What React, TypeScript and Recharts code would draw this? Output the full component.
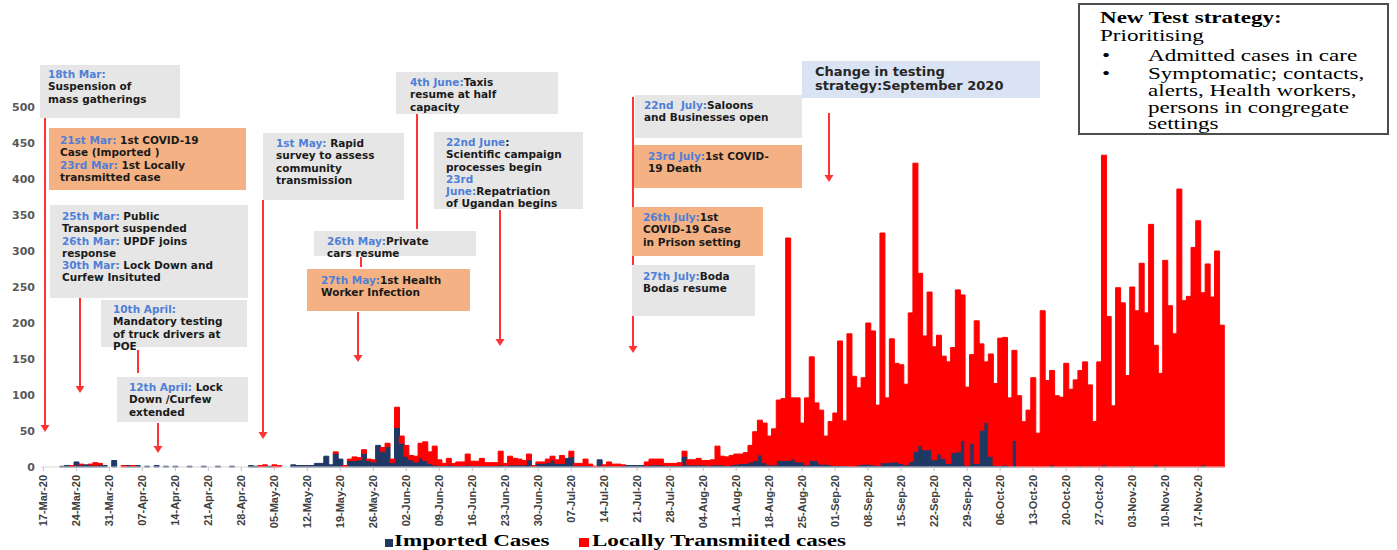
import React from 'react';
import { BarChart, Bar, XAxis, YAxis } from 'recharts';

// ---------------------------------------------------------------------------
// Daily cases, 17-Mar-20 .. 22-Nov-20, one array per month
// ---------------------------------------------------------------------------
const IMPORTED_MAR = [0, 0, 0, 0, 1, 2, 1, 7, 3, 3, 3, 2, 3, 2, 0];
const LOCAL_MAR = [0, 0, 0, 0, 0, 0, 1, 0, 1, 0, 1, 4, 2, 0, 0];
const IMPORTED_APR = [9, 0, 0, 2, 1, 2, 0, 1, 0, 2, 0, 1, 0, 1, 0, 0, 1, 0, 0, 1, 0, 0, 1, 0, 0, 1, 0, 0, 0, 2];
const LOCAL_APR = [0, 0, 2, 0, 1, 0, 0, 0, 0, 0, 0, 0, 0, 0, 0, 0, 0, 0, 0, 0, 0, 0, 0, 0, 0, 0, 0, 0, 0, 0];
const IMPORTED_MAY = [1, 0, 1, 1, 0, 0, 0, 0, 3, 2, 2, 2, 2, 5, 5, 15, 3, 19, 11, 0, 9, 9, 10, 19, 9, 7, 30, 22, 28, 6, 55];
const LOCAL_MAY = [0, 2, 2, 0, 3, 2, 0, 0, 0, 0, 0, 0, 0, 0, 0, 0, 0, 2, 0, 2, 2, 5, 3, 5, 2, 3, 0, 5, 5, 5, 28];
const IMPORTED_JUN = [33, 15, 10, 7, 13, 9, 5, 3, 2, 2, 3, 2, 2, 2, 3, 2, 2, 2, 2, 2, 2, 3, 2, 3, 3, 3, 3, 10, 1, 5];
const LOCAL_JUN = [10, 15, 6, 8, 20, 26, 16, 26, 8, 3, 9, 3, 5, 5, 15, 6, 6, 10, 4, 4, 4, 19, 3, 12, 9, 8, 6, 8, 1, 2];
const IMPORTED_JUL = [5, 6, 10, 5, 5, 12, 14, 2, 2, 2, 2, 0, 10, 1, 2, 1, 1, 2, 2, 2, 2, 2, 2, 3, 3, 3, 2, 2, 2, 2, 15];
const LOCAL_JUL = [2, 5, 5, 5, 11, 0, 8, 3, 3, 9, 2, 1, 0, 2, 5, 3, 3, 1, 0, 0, 0, 0, 5, 8, 8, 8, 3, 3, 3, 4, 7];
const IMPORTED_AUG = [3, 3, 3, 3, 2, 3, 3, 3, 2, 3, 4, 5, 5, 7, 9, 17, 6, 3, 3, 9, 9, 9, 11, 7, 7, 3, 9, 9, 4, 4, 3];
const LOCAL_AUG = [7, 7, 9, 6, 7, 7, 26, 12, 12, 13, 14, 13, 15, 23, 40, 48, 55, 40, 50, 84, 86, 309, 85, 89, 54, 93, 144, 80, 75, 39, 60];
const IMPORTED_SEP = [2, 2, 2, 1, 1, 3, 4, 4, 3, 2, 6, 6, 7, 7, 5, 3, 8, 22, 30, 24, 24, 10, 18, 12, 5, 20, 21, 37, 2, 33];
const LOCAL_SEP = [73, 173, 62, 184, 125, 107, 120, 196, 186, 84, 319, 90, 171, 137, 137, 112, 206, 400, 239, 158, 219, 157, 165, 142, 141, 146, 225, 202, 109, 123];
const IMPORTED_OCT = [5, 51, 62, 15, 2, 2, 3, 1, 37, 0, 1, 0, 0, 0, 0, 0, 3, 0, 1, 0, 0, 0, 2, 0, 1, 0, 0, 3, 0, 0, 0];
const LOCAL_OCT = [198, 120, 84, 142, 114, 177, 177, 95, 125, 99, 62, 79, 124, 47, 217, 120, 131, 99, 96, 144, 108, 121, 132, 146, 113, 63, 146, 430, 209, 85, 249];
const IMPORTED_NOV = [0, 0, 2, 0, 0, 0, 0, 3, 0, 0, 0, 0, 0, 0, 1, 0, 0, 3, 0, 0, 0, 0];
const LOCAL_NOV = [228, 127, 248, 217, 283, 214, 337, 166, 130, 287, 224, 185, 386, 231, 236, 305, 342, 239, 282, 236, 300, 197];

const TICK_LABELS = [
  '17-Mar-20', '24-Mar-20', '31-Mar-20', '07-Apr-20', '14-Apr-20', '21-Apr-20', '28-Apr-20',
  '05-May-20', '12-May-20', '19-May-20', '26-May-20', '02-Jun-20', '09-Jun-20', '16-Jun-20',
  '23-Jun-20', '30-Jun-20', '07-Jul-20', '14-Jul-20', '21-Jul-20', '28-Jul-20', '04-Aug-20',
  '11-Aug-20', '18-Aug-20', '25-Aug-20', '01-Sep-20', '08-Sep-20', '15-Sep-20', '22-Sep-20',
  '29-Sep-20', '06-Oct-20', '13-Oct-20', '20-Oct-20', '27-Oct-20', '03-Nov-20', '10-Nov-20',
  '17-Nov-20',
];
const Y_TICKS = [0, 50, 100, 150, 200, 250, 300, 350, 400, 450, 500];

const MONTHS = ['Jan', 'Feb', 'Mar', 'Apr', 'May', 'Jun', 'Jul', 'Aug', 'Sep', 'Oct', 'Nov', 'Dec'];

const IMPORTED = [
  ...IMPORTED_MAR, ...IMPORTED_APR, ...IMPORTED_MAY, ...IMPORTED_JUN, ...IMPORTED_JUL,
  ...IMPORTED_AUG, ...IMPORTED_SEP, ...IMPORTED_OCT, ...IMPORTED_NOV,
];
const LOCAL = [
  ...LOCAL_MAR, ...LOCAL_APR, ...LOCAL_MAY, ...LOCAL_JUN, ...LOCAL_JUL,
  ...LOCAL_AUG, ...LOCAL_SEP, ...LOCAL_OCT, ...LOCAL_NOV,
];

function dayLabel(i: number) {
  const d = new Date(Date.UTC(2020, 2, 17 + i));
  return `${String(d.getUTCDate()).padStart(2, '0')}-${MONTHS[d.getUTCMonth()]}-20`;
}

const data = IMPORTED.map((v, i) => ({ date: dayLabel(i), imported: v, local: LOCAL[i] }));

// ---------------------------------------------------------------------------
// Annotation boxes & arrows (page pixels)
// ---------------------------------------------------------------------------
const GREY = '#e6e6e6';
const ORANGE = '#f4b183';
const BLUE_TXT = '#4f7fd6';
const NAVY = '#1f3864';
const RED = '#ff0000';

interface Note {
  x: number; y: number; w: number; h: number; bg: string; tx: number; ty: number;
  lines: [string, string][];
}

const NOTES: Note[] = [
  { x: 40, y: 65, w: 140, h: 53, bg: GREY, tx: 8, ty: 3,
    lines: [['18th Mar:', ''], ['', 'Suspension of'], ['', 'mass gatherings']] },
  { x: 49, y: 128, w: 197, h: 62, bg: ORANGE, tx: 11, ty: 6,
    lines: [['21st Mar: ', '1st COVID-19'], ['', 'Case (Imported )'], ['23rd Mar: ', '1st Locally'], ['', 'transmitted case']] },
  { x: 50, y: 205, w: 198, h: 93, bg: GREY, tx: 12, ty: 5,
    lines: [['25th Mar: ', 'Public'], ['', 'Transport suspended'], ['26th Mar: ', 'UPDF joins'], ['', 'response'], ['30th Mar: ', 'Lock Down and'], ['', 'Curfew Insituted']] },
  { x: 101, y: 300, w: 146, h: 47, bg: GREY, tx: 12, ty: 3,
    lines: [['10th April:', ''], ['', 'Mandatory testing'], ['', 'of truck drivers at'], ['', 'POE']] },
  { x: 117, y: 377, w: 131, h: 45, bg: GREY, tx: 12, ty: 4,
    lines: [['12th April: ', 'Lock'], ['', 'Down /Curfew'], ['', 'extended']] },
  { x: 263, y: 133, w: 141, h: 67, bg: GREY, tx: 13, ty: 4,
    lines: [['1st May: ', 'Rapid'], ['', 'survey to assess'], ['', 'community'], ['', 'transmission']] },
  { x: 396, y: 72, w: 162, h: 42, bg: GREY, tx: 14, ty: 4,
    lines: [['4th June:', 'Taxis'], ['', 'resume at half'], ['', 'capacity']] },
  { x: 314, y: 231, w: 162, h: 25, bg: GREY, tx: 13, ty: 4,
    lines: [['26th May:', 'Private'], ['', 'cars resume']] },
  { x: 307, y: 269, w: 163, h: 42, bg: ORANGE, tx: 14, ty: 5,
    lines: [['27th May:', '1st Health'], ['', 'Worker Infection']] },
  { x: 434, y: 132, w: 149, h: 77, bg: GREY, tx: 12, ty: 4,
    lines: [['22nd June', ':'], ['', 'Scientific campaign'], ['', 'processes begin'], ['23rd', ''], ['June:', 'Repatriation'], ['', 'of Ugandan begins']] },
  { x: 635, y: 95, w: 167, h: 43, bg: GREY, tx: 9, ty: 4,
    lines: [['22nd  July:', 'Saloons'], ['', 'and Businesses open']] },
  { x: 634, y: 145, w: 168, h: 43, bg: ORANGE, tx: 14, ty: 5,
    lines: [['23rd July:', '1st COVID-'], ['', '19 Death']] },
  { x: 632, y: 207, w: 131, h: 49, bg: ORANGE, tx: 11, ty: 4,
    lines: [['26th July:', '1st'], ['', 'COVID-19 Case'], ['', 'in Prison setting']] },
  { x: 632, y: 265, w: 123, h: 51, bg: GREY, tx: 11, ty: 5,
    lines: [['27th July:', 'Boda'], ['', 'Bodas resume']] },
];

// [x, yStart, yEnd, hasHead]
const ARROWS: [number, number, number, boolean][] = [
  [45, 118, 432, true],
  [80, 298, 393, true],
  [138, 350, 373, false],
  [158, 423, 453, true],
  [263, 200, 439, true],
  [417, 113, 229, false],
  [361, 257, 267, false],
  [358, 312, 362, true],
  [500, 210, 346, true],
  [633, 97, 353, true],
  [829, 113, 182, true],
];

const NOTE_FONT = '"DejaVu Sans", Arial, sans-serif';
const SERIF = '"Liberation Serif", "Times New Roman", serif';

function DateTick({ x, y, payload }: any) {
  return (
    <text
      x={0}
      y={0}
      transform={`translate(${x},${y + 2}) rotate(-90)`}
      textAnchor="end"
      dominantBaseline="central"
      fontSize={11}
      fontWeight="bold"
      fontFamily="'Liberation Sans', Arial, sans-serif"
      fill="#404040"
    >
      {payload.value}
    </text>
  );
}

function NoteBox({ n }: { n: Note }) {
  return (
    <div
      style={{
        position: 'absolute', left: n.x, top: n.y, width: n.w, height: n.h, background: n.bg,
        boxSizing: 'border-box', paddingLeft: n.tx, paddingTop: n.ty,
        fontFamily: NOTE_FONT, fontSize: 10.5, fontWeight: 'bold', lineHeight: '12.3px',
        color: '#1a1a1a', whiteSpace: 'pre',
      }}
    >
      {n.lines.map(([blue, black], i) => (
        <div key={i}>
          <span style={{ color: BLUE_TXT }}>{blue}</span>
          {black}
        </div>
      ))}
    </div>
  );
}

function SerifLine({ left, top, bold, children }: { left: number; top: number; bold?: boolean; children: React.ReactNode }) {
  return (
    <div
      style={{
        position: 'absolute', left, top, fontFamily: SERIF, fontSize: 16, lineHeight: '16px',
        fontWeight: bold ? 'bold' : 'normal', whiteSpace: 'nowrap', color: '#000',
        transform: 'scaleX(1.44)', transformOrigin: 'left top',
      }}
    >
      {children}
    </div>
  );
}

export default function App() {
  return (
    <div style={{ position: 'absolute', left: 0, top: 0, width: 1397, height: 550, overflow: 'hidden', background: '#fff' }}>
      <BarChart
        width={1397}
        height={550}
        data={data}
        margin={{ top: 107, right: 173, bottom: 0, left: 0 }}
        barCategoryGap={0}
        barGap={0}
      >
        <XAxis
          dataKey="date"
          ticks={TICK_LABELS}
          interval={0}
          height={83}
          tick={<DateTick />}
          tickSize={4}
          axisLine={{ stroke: '#d9d9d9' }}
          tickLine={{ stroke: '#bfbfbf' }}
        />
        <YAxis
          domain={[0, 500]}
          ticks={Y_TICKS}
          width={41}
          axisLine={false}
          tickLine={false}
          tickSize={4}
          tickMargin={2}
          tick={{ fill: '#595959', fontSize: 11, fontWeight: 'bold', fontFamily: NOTE_FONT }}
        />
        {/* a thin same-colour stroke closes the sub-pixel seams between neighbouring bars */}
        <Bar dataKey="imported" stackId="a" fill={NAVY} stroke={NAVY} strokeWidth={1} isAnimationActive={false} />
        <Bar dataKey="local" stackId="a" fill={RED} stroke={RED} strokeWidth={1} isAnimationActive={false} />
      </BarChart>

      <svg width={1397} height={550} style={{ position: 'absolute', left: 0, top: 0, pointerEvents: 'none' }}>
        {ARROWS.map(([x, y1, y2, head], i) => (
          <g key={i} stroke="#ff3333" fill="#ff3333">
            <line x1={x} y1={y1} x2={x} y2={head ? y2 - 5 : y2} strokeWidth={2} />
            {head && <polygon points={`${x - 4.5},${y2 - 7} ${x + 4.5},${y2 - 7} ${x},${y2}`} stroke="none" />}
          </g>
        ))}
      </svg>

      {NOTES.map((n, i) => (
        <NoteBox key={i} n={n} />
      ))}

      <div
        style={{
          position: 'absolute', left: 802, top: 61, width: 238, height: 37, background: '#dae3f3',
          boxSizing: 'border-box', paddingLeft: 13, paddingTop: 4, fontFamily: NOTE_FONT,
          fontSize: 13, fontWeight: 'bold', lineHeight: '14px', color: '#262626', whiteSpace: 'pre',
        }}
      >
        <div>Change in testing</div>
        <div>strategy:September 2020</div>
      </div>

      <div
        style={{
          position: 'absolute', left: 1078, top: 3, width: 311, height: 132,
          border: '2px solid #4d4d4d', boxSizing: 'border-box', background: '#fff',
        }}
      >
        <SerifLine left={20} top={5} bold>New Test strategy:</SerifLine>
        <SerifLine left={20} top={23}>Prioritising</SerifLine>
        <SerifLine left={22} top={43}>•</SerifLine>
        <SerifLine left={68} top={43}>Admitted cases in care</SerifLine>
        <SerifLine left={22} top={61}>•</SerifLine>
        <SerifLine left={68} top={61}>Symptomatic; contacts,</SerifLine>
        <SerifLine left={68} top={78}>alerts, Health workers,</SerifLine>
        <SerifLine left={68} top={95}>persons in congregate</SerifLine>
        <SerifLine left={68} top={111}>settings</SerifLine>
      </div>

      <div style={{ position: 'absolute', left: 385, top: 539, width: 8, height: 8, background: NAVY }} />
      <SerifLine left={394} top={533} bold>Imported Cases</SerifLine>
      <div style={{ position: 'absolute', left: 579, top: 538, width: 10, height: 9, background: RED }} />
      <SerifLine left={592} top={533} bold>Locally Transmiited cases</SerifLine>
    </div>
  );
}
